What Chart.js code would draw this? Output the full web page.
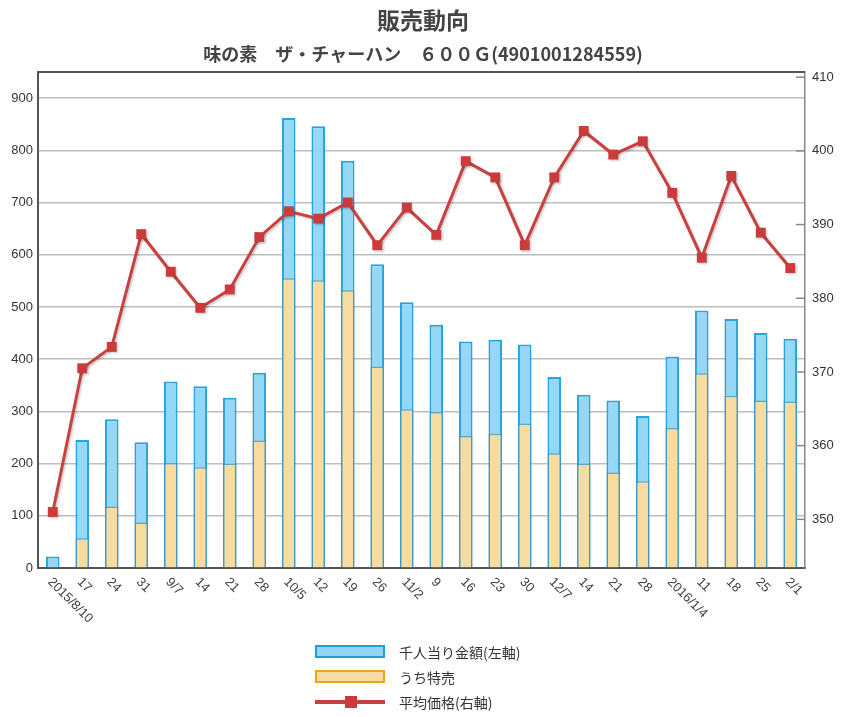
<!DOCTYPE html>
<html>
<head>
<meta charset="utf-8">
<script src="https://cdn.jsdelivr.net/npm/chart.js@4.4.1/dist/chart.umd.min.js"></script>
<style>
  body { margin: 0; background: #fff; }
  #wrap { position: relative; width: 846px; height: 717px; }
  #mychart { position: absolute; left: 0; top: 0; }
  #legend { position: absolute; left: 315px; top: 639px; font: 14px "Noto Sans CJK JP", sans-serif; color: #333; }
  .row { height: 25px; display: flex; align-items: center; }
  .sw { width: 70px; height: 13px; box-sizing: border-box; margin-right: 14px; position: relative; }
  .sw.blue { background: #93d5f6; border: 2px solid #1f9fd9; }
  .sw.yellow { background: #f9dca2; border: 2px solid #e9a516; }
  .sw.line::before { content: ""; position: absolute; left: 0; right: 0; top: 5px; height: 4px; background: #c9413f; }
  .sw.line::after { content: ""; position: absolute; left: 30px; top: 1px; width: 12px; height: 12px; background: #cc3b3b; }
</style>
</head>
<body>
<div id="wrap">
  <canvas id="mychart" width="846" height="717"></canvas>
  <div id="legend">
    <div class="row"><span class="sw blue"></span>千人当り金額(左軸)</div>
    <div class="row"><span class="sw yellow"></span>うち特売</div>
    <div class="row"><span class="sw line"></span>平均価格(右軸)</div>
  </div>
</div>
<script>
const ctx = document.getElementById('mychart').getContext('2d');

let labels = ['2015/8/10', '17', '24', '31', '9/7', '14', '21', '28', '10/5', '12', '19', '26', '11/2',
  '9', '16', '23', '30', '12/7', '14', '21', '28', '2016/1/4', '11', '18', '25', '2/1'];
let perThousand = [22, 245, 285, 241, 357, 348, 326, 374, 862, 846, 780, 582, 509,
  466, 434, 437, 428, 366, 332, 321, 291, 405, 493, 477, 450, 439];
let special = [3, 57, 118, 87, 201, 193, 200, 244, 555, 551, 532, 386, 304,
  299, 253, 257, 277, 220, 200, 183, 166, 268, 373, 330, 321, 319];
let avgPrice = [351.0, 370.5, 373.4, 388.7, 383.6, 378.7, 381.2, 388.3, 391.8, 390.8, 393.0, 387.2, 392.3,
  388.6, 398.6, 396.4, 387.2, 396.4, 402.7, 399.5, 401.3, 394.3, 385.5, 396.6, 388.9, 384.1];
let leftTicks = [0, 100, 200, 300, 400, 500, 600, 700, 800, 900];
let rightTicks = [350, 360, 370, 380, 390, 400, 410];

const tickFont = { family: 'Liberation Sans', size: 13 };

// top border, right tick marks, rotated x labels
const extras = {
    id: 'extras',
    beforeDatasetDraw(chart, args) {
        if (args.index === 2) {
            const c = chart.ctx;
            c.save();
            c.shadowColor = 'rgba(0,0,0,0.2)';
            c.shadowOffsetX = 1.5;
            c.shadowOffsetY = 1.5;
            c.shadowBlur = 2;
        }
    },
    afterDatasetDraw(chart, args) {
        if (args.index === 2) chart.ctx.restore();
    },
    afterDraw(chart) {
        const c = chart.ctx;
        const a = chart.chartArea;
        c.save();
        c.strokeStyle = '#555';
        c.lineWidth = 2;
        c.beginPath();
        c.moveTo(a.left - 1, a.top);
        c.lineTo(a.right, a.top);
        c.stroke();

        const yr = chart.scales.yRight;
        c.strokeStyle = '#888';
        c.lineWidth = 1.5;
        yr.ticks.forEach(t => {
            const y = yr.getPixelForValue(t.value);
            c.beginPath();
            c.moveTo(a.right - 9, y);
            c.lineTo(a.right, y);
            c.stroke();
        });

        const xs = chart.scales.x;
        c.fillStyle = '#444';
        c.font = '13px "Liberation Sans"';
        c.textAlign = 'left';
        c.textBaseline = 'middle';
        labels.forEach((l, i) => {
            const x = xs.getPixelForValue(i);
            c.save();
            c.translate(x - 3, a.bottom + 12);
            c.rotate(Math.PI / 4);
            c.fillText(l, 0, 0);
            c.restore();
        });
        c.restore();
    }
};

let obj = {
    type: 'bar',
    data: {
        labels: labels,
        datasets: [{
                label: '千人当り金額(左軸)',
                data: perThousand,
                backgroundColor: '#95d7f7',
                borderColor: '#29a3dc',
                borderWidth: 2,
                grouped: false,
                categoryPercentage: 0.5,
                barPercentage: 0.92,
                yAxisID: 'y',
                order: 2
            },
            {
                label: 'うち特売',
                data: special,
                backgroundColor: '#f8dc9f',
                borderColor: 'rgba(70,150,185,0.75)',
                borderWidth: 1.5,
                grouped: false,
                categoryPercentage: 0.5,
                barPercentage: 0.92,
                yAxisID: 'y',
                order: 1
            },
            {
                type: 'line',
                label: '平均価格(右軸)',
                data: avgPrice,
                borderColor: '#c8413f',
                borderWidth: 3,
                tension: 0,
                pointStyle: 'rect',
                pointRadius: 7,
                pointBorderWidth: 0,
                pointBackgroundColor: '#cc3b3b',
                yAxisID: 'yRight',
                order: 0
            }
        ]
    },
    plugins: [extras],
    options: {
        responsive: false,
        animation: false,
        layout: { padding: 0 },
        plugins: {
            legend: { display: false },
            tooltip: { enabled: false },
            title: {
                display: true,
                text: '販売動向',
                color: '#444',
                font: { family: 'Noto Sans CJK JP', size: 23, weight: 'bold' },
                padding: { top: 6, bottom: 0 }
            },
            subtitle: {
                display: true,
                text: '味の素　ザ・チャーハン　６００Ｇ(4901001284559)',
                color: '#444',
                font: { family: 'Noto Sans CJK JP', size: 18, weight: 'bold' },
                padding: { top: 9.6, bottom: 7.2 }
            }
        },
        scales: {
            x: {
                ticks: { display: false },
                grid: { display: true, drawOnChartArea: false, drawTicks: false },
                border: { display: true, color: '#555', width: 2 },
                afterFit: s => { s.height = 149; }
            },
            y: {
                position: 'left',
                min: 0,
                max: 950,
                afterBuildTicks: s => { s.ticks = leftTicks.map(v => ({ value: v })); },
                ticks: { color: '#333', font: tickFont, padding: 5 },
                grid: { color: '#bdbdbd', lineWidth: 1.5, drawTicks: false },
                border: { display: true, color: '#555', width: 2 },
                afterFit: s => { s.width = 38; }
            },
            yRight: {
                position: 'right',
                min: 343.4,
                max: 410.7,
                afterBuildTicks: s => { s.ticks = rightTicks.map(v => ({ value: v })); },
                ticks: { color: '#333', font: tickFont, padding: 7 },
                grid: { display: true, drawOnChartArea: false, drawTicks: false },
                border: { display: true, color: '#888', width: 1.5 },
                afterFit: s => { s.width = 41; }
            }
        }
    }
};
let myChart = new Chart(ctx, obj);
</script>
</body>
</html>
